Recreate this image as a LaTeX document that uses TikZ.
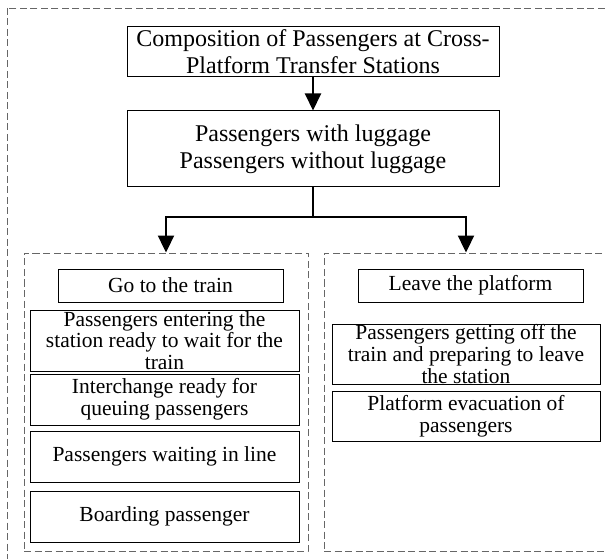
\documentclass[tikz,border=0pt]{standalone}
\usepackage{fontspec}
\setmainfont{Liberation Serif}
\usetikzlibrary{arrows.meta}
\tikzset{
    bigbox/.style={draw, line width=1pt, inner sep=0pt, align=center, minimum width=372pt,
        font=\fontsize{24}{27}\selectfont},
    smallbox/.style={draw, line width=0.9pt, inner sep=0pt, align=center, minimum height=51pt,
        font=\fontsize{21.5}{21.7}\selectfont},
    groupbox/.style={draw=black!60, dash pattern=on 7pt off 3.5pt, line width=0.9pt, inner sep=0pt,
        minimum width=284pt, minimum height=298pt},
    flow/.style={line width=2pt, -{Triangle[length=17pt,width=16pt]}}
}
\begin{document}
\begin{tikzpicture}[x=1pt, y=-1pt]
    \useasboundingbox (0, 0) rectangle (606, 559);
    \clip (0, 0) rectangle (606, 559);
    \draw[draw=black!60, dash pattern=on 7pt off 3.5pt, line width=0.9pt] (7, 8) rectangle (614, 566); % Outer frame

    \node[bigbox, minimum height=50pt] (compo) at (313, 52) {Composition of Passengers at Cross-\\Platform Transfer Stations};
    \node[bigbox, minimum height=76pt] (lugg) at (313, 149) {Passengers with luggage\\Passengers without luggage};

    \node[groupbox] (gogroup) at (166, 402) {};
    \node[groupbox] (leavegroup) at (466, 402) {};

    % Go to the train
    \node[smallbox, minimum width=225pt, minimum height=33pt] (gotrain) at (170.5, 285.5) {Go to the train};
    \node[smallbox, minimum width=269pt, minimum height=61pt] (enter) at (164.5, 340.5) {Passengers entering the\\station ready to wait for the\\train};
    \node[smallbox, minimum width=269pt] (interchange) at (164.5, 399.5) {Interchange ready for\\queuing passengers};
    \node[smallbox, minimum width=269pt] (waiting) at (164.5, 456.5) {Passengers waiting in line};
    \node[smallbox, minimum width=269pt] (boarding) at (164.5, 516.5) {Boarding passenger};

    % Leave the platform
    \node[smallbox, minimum width=225pt, minimum height=33pt] (leave) at (470.5, 285.5) {Leave the platform};
    \node[smallbox, minimum width=268pt, minimum height=60pt] (getoff) at (466, 354) {Passengers getting off the\\train and preparing to leave\\the station};
    \node[smallbox, minimum width=268pt, minimum height=50pt] (evac) at (466, 416) {Platform evacuation of\\passengers};

    \draw[flow] (compo) -- (lugg);
    \draw[line width=2pt] (lugg.south) -- ++(0, 30) coordinate (split);
    \draw[flow] (split) -| (gogroup.north);
    \draw[flow] (split) -| (leavegroup.north);
\end{tikzpicture}
\end{document}
